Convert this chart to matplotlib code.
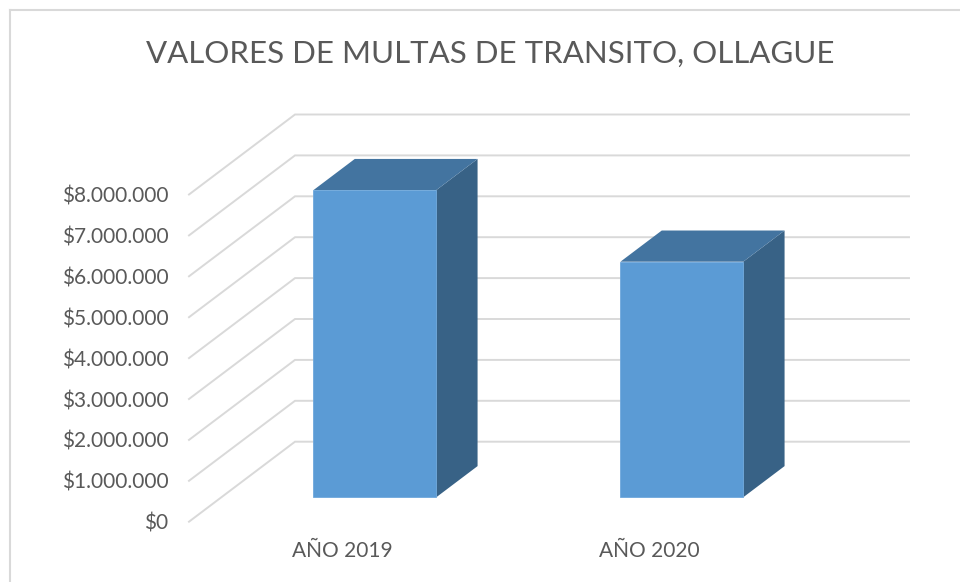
import matplotlib
matplotlib.use("Agg")
import matplotlib.pyplot as plt
from matplotlib import lines
from matplotlib.patches import Polygon, Rectangle

# data
categories = ["AÑO 2019", "AÑO 2020"]
values = [7510000, 5760000]
ticks = [0, 1000000, 2000000, 3000000, 4000000, 5000000, 6000000, 7000000, 8000000]
tick_labels = ["$0", "$1.000.000", "$2.000.000", "$3.000.000", "$4.000.000",
               "$5.000.000", "$6.000.000", "$7.000.000", "$8.000.000"]
title = "VALORES DE MULTAS DE TRANSITO, OLLAGUE"

plt.rcParams['font.family'] = ['Lato', 'DejaVu Sans']
text_color = "#595959"
grid_color = "#D9D9D9"
front_color = "#5B9BD5"
top_color = "#4374A0"
side_color = "#386286"

W, H = 960, 582
fig = plt.figure(figsize=(W / 100, H / 100), dpi=100, facecolor="w")

# oblique depth of the floor (x in category units, y in data units)
ox = 0.3453
oy = 1.956e6
n = len(categories)
ymax = ticks[-1] + oy

ax = fig.add_axes([189 / W, (H - 521.7) / H, 720 / W, (521.7 - 114.5) / H])
ax.set_xlim(0, n + ox)
ax.set_ylim(0, ymax)
for s in ax.spines.values():
    s.set_visible(False)

# gridlines: side wall diagonal + back wall horizontal
for v in ticks:
    ax.plot([0, ox, n + ox], [v, v + oy, v + oy], color=grid_color, lw=1.4,
            solid_joinstyle="miter", clip_on=False, zorder=1)

# bars as boxes
w = 0.40
d0, d1 = 0.305, 0.695
bx = (d1 - d0) * ox
by = (d1 - d0) * oy
for i, v in enumerate(values):
    xl = i + 0.5 - w / 2 + d0 * ox
    xr = xl + w
    y0 = d0 * oy
    ax.add_patch(Polygon([(xr, y0), (xr + bx, y0 + by), (xr + bx, y0 + v + by), (xr, y0 + v)],
                         closed=True, facecolor=side_color, edgecolor="none", zorder=3))
    ax.add_patch(Polygon([(xl, y0 + v), (xl + bx, y0 + v + by), (xr + bx, y0 + v + by), (xr, y0 + v)],
                         closed=True, facecolor=top_color, edgecolor="none", zorder=3))
    ax.add_patch(Rectangle((xl, y0), w, v, facecolor=front_color,
                           edgecolor="#6FA8DC", lw=0.6, zorder=4))

ax.set_yticks(ticks, tick_labels)
ax.set_xticks([i + 0.5 for i in range(n)], categories)
ax.tick_params(axis="y", length=0, pad=15, labelsize=15, labelcolor=text_color)
ax.tick_params(axis="x", length=0, pad=14, labelsize=15, labelcolor=text_color)

fig.text(490 / W, 1 - 54 / H, title, ha="center", va="center",
         fontsize=22.5, color=text_color)

# chart frame (cropped at right and bottom)
fig.add_artist(lines.Line2D([10 / W, 10 / W], [0, 1 - 10 / H], color=grid_color, lw=1.5))
fig.add_artist(lines.Line2D([10 / W, 1], [1 - 10 / H, 1 - 10 / H], color=grid_color, lw=1.5))

fig.savefig("out.png", dpi=100, facecolor="w")
